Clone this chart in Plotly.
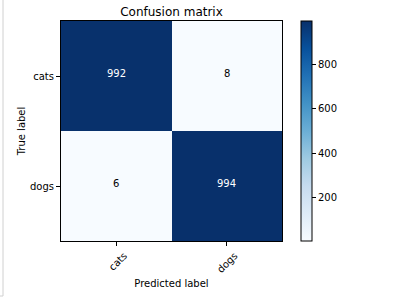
import plotly.graph_objects as go
from plotly.colors import sequential

classes = ["cats", "dogs"]
cm = [[992, 8], [6, 994]]
cbar_ticks = [200, 400, 600, 800]
title = "Confusion matrix"
xlabel = "Predicted label"
ylabel = "True label"

W, H = 393, 299
L, R, T, B = 61, 111, 21, 58
pw, ph = W - L - R, H - T - B

flat = [v for row in cm for v in row]
zmin, zmax = min(flat), max(flat)
thresh = zmax / 2.0

font = "DejaVu Sans"

fig = go.Figure(
    go.Heatmap(
        z=cm,
        x=list(range(len(classes))),
        y=list(range(len(classes))),
        colorscale=sequential.Blues,
        zmin=zmin,
        zmax=zmax,
        hoverinfo="skip",
        colorbar=dict(
            thickness=11,
            thicknessmode="pixels",
            len=1,
            lenmode="fraction",
            x=(301 - L) / pw,
            xanchor="left",
            y=0.5,
            yanchor="middle",
            xpad=0,
            ypad=0,
            outlinewidth=1,
            outlinecolor="black",
            tickvals=cbar_ticks,
            ticks="outside",
            ticklen=4,
            tickcolor="black",
            tickfont=dict(family=font, size=10, color="black"),
        ),
    )
)

for i, row in enumerate(cm):
    for j, v in enumerate(row):
        fig.add_annotation(
            x=j, y=i, text=str(v), showarrow=False, yshift=3,
            font=dict(family=font, size=10, color="white" if v > thresh else "black"),
        )

axis_common = dict(
    showline=True, linecolor="black", linewidth=1, mirror=True,
    ticks="outside", ticklen=4, tickcolor="black", showgrid=False, zeroline=False,
    tickfont=dict(family=font, size=10, color="black"),
)

fig.update_layout(
    width=W, height=H,
    margin=dict(l=L, r=R, t=T, b=B, autoexpand=False),
    paper_bgcolor="white", plot_bgcolor="white",
    title=dict(text=title, x=(L + pw / 2) / W, xanchor="center",
               y=(H - 12) / H, yanchor="middle",
               font=dict(family=font, size=12, color="black")),
    xaxis=dict(
        axis_common, tickvals=list(range(len(classes))), ticktext=classes,
        range=[-0.5, len(classes) - 0.5], tickangle=-45, ticklabelshift=8,
        title=dict(text=xlabel, standoff=6, font=dict(family=font, size=10, color="black")),
    ),
    yaxis=dict(
        axis_common, tickvals=list(range(len(classes))), ticktext=classes,
        range=[len(classes) - 0.5, -0.5],
        title=dict(text=ylabel, standoff=2, font=dict(family=font, size=10, color="black")),
    ),
    shapes=[
        dict(type="line", xref="paper", yref="paper",
             x0=(3 - L) / pw, x1=(3 - L) / pw, y0=1 + T / ph, y1=(H - B - 296) / ph,
             line=dict(color="#d0d0d0", width=1)),
        dict(type="line", xref="paper", yref="paper",
             x0=(0 - L) / pw, x1=(3 - L) / pw, y0=(H - B - 296) / ph, y1=(H - B - 296) / ph,
             line=dict(color="#d0d0d0", width=1)),
    ],
)

fig.write_html("out.html")
